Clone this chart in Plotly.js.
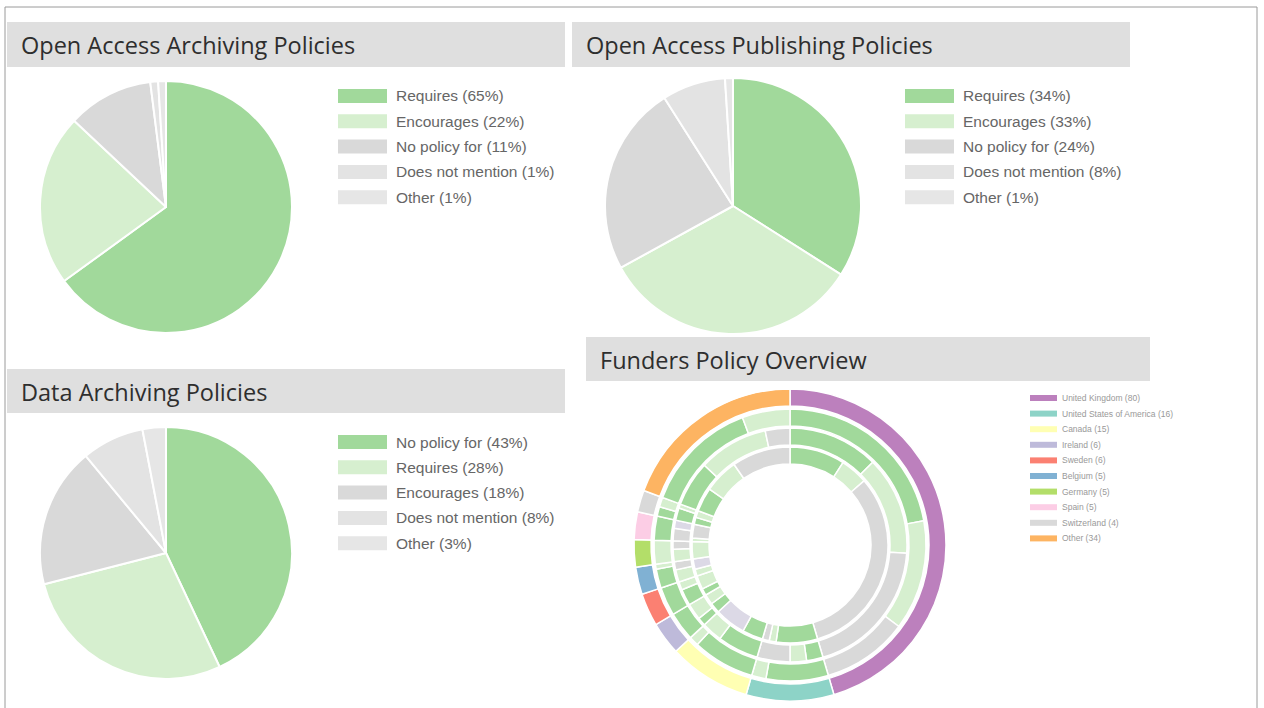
<!DOCTYPE html>
<html><head><meta charset="utf-8">
<script src="https://cdn.plot.ly/plotly-3.0.1.min.js"></script>
<style>html,body{margin:0;padding:0;background:#fff;} #chart{width:1264px;height:708px;}</style>
</head><body><div id="chart"></div>
<script>
// ---------- data ----------
const archivingLabels = ["Requires","Encourages","No policy for","Does not mention","Other"];
const archivingValues = [65,22,11,1,1];
const publishingLabels = ["Requires","Encourages","No policy for","Does not mention","Other"];
const publishingValues = [34,33,24,8,1];
const dataLabels = ["No policy for","Requires","Encourages","Does not mention","Other"];
const dataValues = [43,28,18,8,3];
const sliceColors = ["#a1d99b","#d6efcf","#d9d9d9","#e3e3e3","#e6e6e6"];

const countries = ["United Kingdom","United States of America","Canada","Ireland","Sweden","Belgium","Germany","Spain","Switzerland","Other"];
const countryCounts = [80,16,15,6,6,5,5,5,4,34];
const countryColors = ["#bc80bd","#8dd3c7","#ffffb3","#bebada","#fb8072","#80b1d3","#b3de69","#fccde5","#d9d9d9","#fdb462"];
const ringCategories = ["Requires","Encourages","No policy for","Does not mention"];
const ringColors = ["#a1d99b","#d6efcf","#d9d9d9","#dcd9e6"];
// per country: [requires, encourages, no policy for, does not mention]
const ringOuter  = [[39,23,18,0],[13,3,0,0],[13,2,0,0],[6,0,0,0],[6,0,0,0],[4,1,0,0],[0,5,0,0],[5,0,0,0],[2,2,0,0],[24,10,0,0]];
const ringMiddle = [[22,24,34,0],[4,4,8,0],[10,5,0,0],[2,4,0,0],[4,2,0,0],[0,3,2,0],[0,3,2,0],[0,0,3,2],[3,1,0,0],[11,17,6,0]];
const ringInner  = [[16,8,56,0],[12,2,2,0],[6,0,0,9],[3,3,0,0],[2,4,0,0],[0,2,0,3],[0,5,0,0],[0,1,4,0],[2,2,0,0],[7,10,17,0]];

// ---------- helpers ----------
const W = 1264, H = 708;
const px = x => x / W;
const py = y => 1 - y / H;

function pieTrace(labels, values, colors, cx, cy, r, inner, lw) {
  return {
    type: 'pie', labels: labels, values: values, sort: false, direction: 'clockwise', rotation: 0,
    marker: {colors: colors, line: {color: '#ffffff', width: lw}},
    textinfo: 'none', hoverinfo: 'label+value+percent', showlegend: false,
    hole: inner ? inner / r : 0,
    domain: {x: [px(cx - r), px(cx + r)], y: [py(cy + r), py(cy - r)]}
  };
}

function ringTrace(matrix, rOut, rIn) {
  const labels = [], values = [], colors = [];
  matrix.forEach((row, i) => row.forEach((v, j) => {
    if (v > 0) { labels.push(countries[i] + ' – ' + ringCategories[j]); values.push(v); colors.push(ringColors[j]); }
  }));
  return pieTrace(labels, values, colors, 790, 545, rOut, rIn, 1.5);
}

const traces = [
  pieTrace(archivingLabels, archivingValues, sliceColors, 166, 207, 126, 0, 2),
  pieTrace(publishingLabels, publishingValues, sliceColors, 733, 206, 128, 0, 2),
  pieTrace(dataLabels, dataValues, sliceColors, 166, 553, 126, 0, 2),
  pieTrace(countries.map((c, i) => c + ' (' + countryCounts[i] + ')'), countryCounts, countryColors, 790, 545, 156, 139, 1.5),
  ringTrace(ringOuter, 136, 119),
  ringTrace(ringMiddle, 117, 100),
  ringTrace(ringInner, 98, 81)
];

const shapes = [], annotations = [];
// frame
shapes.push({type: 'rect', xref: 'paper', yref: 'paper', x0: px(5), x1: px(1257), y0: py(712), y1: py(7),
  line: {color: '#9a9a9a', width: 1}, fillcolor: 'rgba(0,0,0,0)', layer: 'below'});

// title banners
function banner(text, x0, x1, y0, y1) {
  shapes.push({type: 'rect', xref: 'paper', yref: 'paper', x0: px(x0), x1: px(x1), y0: py(y1), y1: py(y0),
    line: {width: 0}, fillcolor: '#dfdfdf', layer: 'below'});
  annotations.push({xref: 'paper', yref: 'paper', x: px(x0 + 12), y: py((y0 + y1) / 2 + 1), xanchor: 'left', yanchor: 'middle',
    text: text, showarrow: false, font: {family: 'Open Sans, sans-serif', size: 23.5, color: '#2e2e2e'}});
}
banner('Open Access Archiving Policies', 7, 565, 22, 67);
banner('Open Access Publishing Policies', 572, 1130, 22, 67);
banner('Data Archiving Policies', 7, 565, 369, 413);
banner('Funders Policy Overview', 586, 1150, 337, 381);

// legends built from the data arrays
function legend(labels, values, colors, x, y, step, sw, sh, gap, fsize, fcolor, suffix) {
  labels.forEach((l, i) => {
    const cy = y + i * step;
    shapes.push({type: 'rect', xref: 'paper', yref: 'paper', x0: px(x), x1: px(x + sw), y0: py(cy + sh / 2), y1: py(cy - sh / 2),
      line: {width: 0}, fillcolor: colors[i]});
    annotations.push({xref: 'paper', yref: 'paper', x: px(x + sw + gap), y: py(cy), xanchor: 'left', yanchor: 'middle',
      text: l + ' (' + values[i] + suffix + ')', showarrow: false, font: {family: 'Liberation Sans, Arial, sans-serif', size: fsize, color: fcolor}});
  });
}
legend(archivingLabels, archivingValues, sliceColors, 338, 96, 25.3, 49, 14, 7, 15.5, '#666666', '%');
legend(publishingLabels, publishingValues, sliceColors, 905, 96, 25.3, 49, 14, 7, 15.5, '#666666', '%');
legend(dataLabels, dataValues, sliceColors, 338, 442, 25.3, 49, 14, 7, 15.5, '#666666', '%');
legend(countries, countryCounts, countryColors, 1030, 398, 15.6, 27, 6, 3, 8.5, '#999999', '');

Plotly.newPlot('chart', traces, {
  width: W, height: H, margin: {l: 0, r: 0, t: 0, b: 0},
  paper_bgcolor: '#ffffff', showlegend: false,
  shapes: shapes, annotations: annotations
}, {displayModeBar: false, staticPlot: true});
</script></body></html>
